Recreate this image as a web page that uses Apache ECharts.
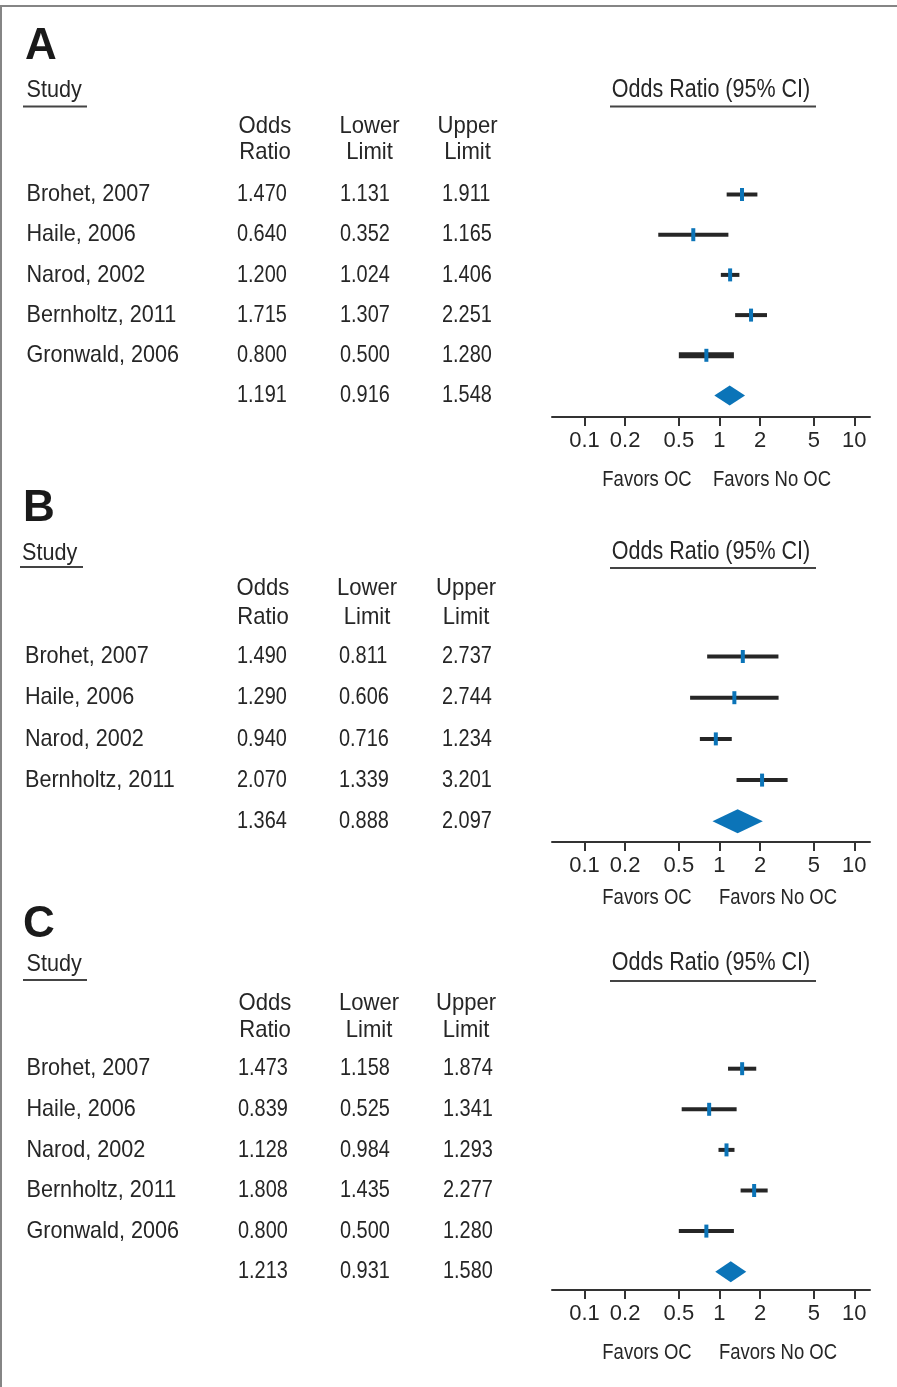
<!DOCTYPE html>
<html><head><meta charset="utf-8">
<script src="https://cdn.jsdelivr.net/npm/echarts@6/dist/echarts.min.js"></script>
<style>html,body{margin:0;padding:0;background:#fff}#c{width:897px;height:1387px}</style>
</head><body><div id="c"></div>
<script>
// ---------------- DATA ----------------
const studiesA = ['Brohet, 2007', 'Haile, 2006', 'Narod, 2002', 'Bernholtz, 2011', 'Gronwald, 2006'];
const orA      = [1.470, 0.640, 1.200, 1.715, 0.800];
const lowerA   = [1.131, 0.352, 1.024, 1.307, 0.500];
const upperA   = [1.911, 1.165, 1.406, 2.251, 1.280];
const summaryA = [1.191, 0.916, 1.548];

const studiesB = ['Brohet, 2007', 'Haile, 2006', 'Narod, 2002', 'Bernholtz, 2011'];
const orB      = [1.490, 1.290, 0.940, 2.070];
const lowerB   = [0.811, 0.606, 0.716, 1.339];
const upperB   = [2.737, 2.744, 1.234, 3.201];
const summaryB = [1.364, 0.888, 2.097];

const studiesC = ['Brohet, 2007', 'Haile, 2006', 'Narod, 2002', 'Bernholtz, 2011', 'Gronwald, 2006'];
const orC      = [1.473, 0.839, 1.128, 1.808, 0.800];
const lowerC   = [1.158, 0.525, 0.984, 1.435, 0.500];
const upperC   = [1.874, 1.341, 1.293, 2.277, 1.280];
const summaryC = [1.213, 0.931, 1.580];

const tickValues = [0.1, 0.2, 0.5, 1, 2, 5, 10];
const tickLabels = ['0.1', '0.2', '0.5', '1', '2', '5', '10'];
const panelLetters = ['A', 'B', 'C'];
const headerTop = ['Odds', 'Lower', 'Upper'];
const headerBottom = ['Ratio', 'Limit', 'Limit'];
const plotTitle = 'Odds Ratio (95% CI)';
const favorsLabels = ['Favors OC', 'Favors No OC'];
const studyHeader = 'Study';

// ---------------- LAYOUT / STYLE ----------------
const FONT = "'Liberation Sans', Arial, sans-serif";
const TXT = '#262626';
const BLUE = '#0b74b8';
const X_MIN = 0.0574, X_MAX = 13.06;
const GRID_LEFT = 552, GRID_WIDTH = 318;
const SX_WORD = 0.9, SX_NUM = 0.83;

const panels = [
  { studies: studiesA, or: orA, lo: lowerA, hi: upperA, sum: summaryA,
    L: { letterX: 25, letterY: 47, studyX: 26.5, studyY: 90, studyUL: [23, 87, 106.5],
         titleX: 711, titleY: 90, titleUL: [610, 816, 106.5], hdrY: [126, 152], hdrX: [265, 369.5, 467.5],
         colX: [237, 340, 442], nameX: 26.5, rowY0: 194.5, step: 40.2, axisY: 417,
         favY: 480, favX: [647, 772], diamondH: 10, thick: {4: 6} } },
  { studies: studiesB, or: orB, lo: lowerB, hi: upperB, sum: summaryB,
    L: { letterX: 23, letterY: 509, studyX: 22, studyY: 553, studyUL: [20, 83, 567],
         titleX: 711, titleY: 552, titleUL: [610, 816, 568], hdrY: [588, 617], hdrX: [263, 367, 466],
         colX: [237, 339, 442], nameX: 25, rowY0: 656.5, step: 41.2, axisY: 842,
         favY: 898, favX: [647, 778], diamondH: 12, thick: {} } },
  { studies: studiesC, or: orC, lo: lowerC, hi: upperC, sum: summaryC,
    L: { letterX: 23, letterY: 925, studyX: 26.5, studyY: 964, studyUL: [23, 87, 980],
         titleX: 711, titleY: 963, titleUL: [610, 816, 981], hdrY: [1003, 1030], hdrX: [265, 369, 466],
         colX: [238, 340, 443], nameX: 26.5, rowY0: 1068.7, step: 40.6, axisY: 1290,
         favY: 1353, favX: [647, 778], diamondH: 10.5, thick: {} } }
];

function fmtTick(v) {
  let best = 0, bd = Infinity;
  tickValues.forEach((t, i) => { const d = Math.abs(Math.log(v / t)); if (d < bd) { bd = d; best = i; } });
  return tickLabels[best];
}

const grids = [], xAxes = [], yAxes = [], series = [], graphics = [];

function txt(text, x, y, size, align, sx, opts) {
  graphics.push({ type: 'text', silent: true, x: x, y: y, scaleX: sx || 1,
    style: {
      text: text, x: 0, y: 0,
      font: (opts && opts.bold ? 'bold ' : '') + size + 'px ' + FONT,
      fill: (opts && opts.fill) || TXT, textAlign: align || 'left', textVerticalAlign: 'middle'
    } });
}
function line(x1, y1, x2, y2, w, c) {
  graphics.push({ type: 'line', silent: true, shape: { x1, y1, x2, y2 }, style: { stroke: c || '#444', lineWidth: w || 2 } });
}

// border (top and left)
line(0, 6, 897, 6, 2, '#858585');
line(1, 6, 1, 1387, 2, '#858585');

panels.forEach((p, pi) => {
  const L = p.L;
  const n = p.studies.length;
  const top = L.rowY0 - 0.5 * L.step;
  grids.push({ left: GRID_LEFT, width: GRID_WIDTH, top: top, height: L.axisY - top, containLabel: false });
  xAxes.push({
    gridIndex: pi, type: 'log', logBase: 10, min: X_MIN, max: X_MAX, position: 'bottom',
    axisLine: { show: true, onZero: false, lineStyle: { color: '#333', width: 2 } },
    axisTick: { show: true, inside: false, length: 9, customValues: tickValues, lineStyle: { color: '#333', width: 2 } },
    minorTick: { show: false },
    axisLabel: { show: true, customValues: tickValues, formatter: fmtTick, margin: 13,
      fontFamily: FONT, fontSize: 22, color: TXT },
    splitLine: { show: false }
  });
  yAxes.push({ gridIndex: pi, type: 'value', inverse: true, min: -0.5, max: (L.axisY - L.rowY0) / L.step, show: false });

  // study CI lines + point markers
  const ciData = p.studies.map((s, i) => [p.lo[i], p.hi[i], p.or[i], i]);
  series.push({
    type: 'custom', xAxisIndex: pi, yAxisIndex: pi, silent: true,
    encode: { x: [0, 1, 2], y: 3 },
    data: ciData,
    renderItem: function (params, api) {
      const r = api.value(3);
      const a = api.coord([api.value(0), r]);
      const b = api.coord([api.value(1), r]);
      const m = api.coord([api.value(2), r]);
      const lw = L.thick[params.dataIndex] || 4;
      return { type: 'group', children: [
        { type: 'line', shape: { x1: a[0], y1: a[1], x2: b[0], y2: b[1] }, style: { stroke: '#262626', lineWidth: lw } },
        { type: 'rect', shape: { x: m[0] - 2, y: m[1] - 6.5, width: 4, height: 13 }, style: { fill: BLUE } }
      ] };
    }
  });
  // summary diamond
  series.push({
    type: 'custom', xAxisIndex: pi, yAxisIndex: pi, silent: true,
    encode: { x: [0, 1, 2], y: 3 },
    data: [[p.sum[1], p.sum[2], p.sum[0], n]],
    renderItem: function (params, api) {
      const r = api.value(3);
      const a = api.coord([api.value(0), r]);
      const b = api.coord([api.value(1), r]);
      const m = api.coord([api.value(2), r]);
      const h = L.diamondH;
      return { type: 'polygon', shape: { points: [[a[0], a[1]], [m[0], m[1] - h], [b[0], b[1]], [m[0], m[1] + h]] },
        style: { fill: BLUE } };
    }
  });

  // texts
  txt(panelLetters[pi], L.letterX, L.letterY, 44, 'left', 1, { bold: true, fill: '#1a1a1a' });
  txt(studyHeader, L.studyX, L.studyY, 24, 'left', SX_WORD);
  line(L.studyUL[0], L.studyUL[2], L.studyUL[1], L.studyUL[2], 2);
  txt(plotTitle, L.titleX, L.titleY, 25, 'center', 0.86);
  line(L.titleUL[0], L.titleUL[2], L.titleUL[1], L.titleUL[2], 2);
  for (let k = 0; k < 3; k++) {
    txt(headerTop[k], L.hdrX[k], L.hdrY[0], 24, 'center', 0.92);
    txt(headerBottom[k], L.hdrX[k], L.hdrY[1], 24, 'center', 0.92);
  }
  for (let i = 0; i <= n; i++) {
    const y = L.rowY0 + i * L.step;
    const vals = i < n ? [p.or[i], p.lo[i], p.hi[i]] : p.sum;
    if (i < n) txt(p.studies[i], L.nameX, y, 24, 'left', SX_WORD);
    vals.forEach((v, k) => txt(v.toFixed(3), L.colX[k], y, 24, 'left', SX_NUM));
  }
  txt(favorsLabels[0], L.favX[0], L.favY, 22, 'center', 0.84);
  txt(favorsLabels[1], L.favX[1], L.favY, 22, 'center', 0.84);
});

const chart = echarts.init(document.getElementById('c'), null, { renderer: 'canvas' });
chart.setOption({
  animation: false,
  backgroundColor: '#ffffff',
  grid: grids, xAxis: xAxes, yAxis: yAxes, series: series, graphic: graphics
});
</script>
</body></html>
